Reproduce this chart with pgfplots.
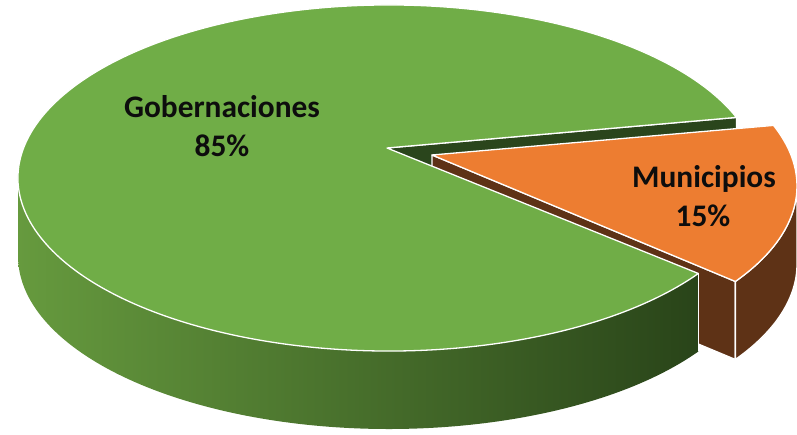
\documentclass[border=0pt]{standalone}
\usepackage{pgfplots}
\pgfplotsset{compat=1.18}
\usepackage{fontspec}
\setmainfont{Carlito}
\definecolor{gtop}{HTML}{70AD47}
\definecolor{otop}{HTML}{ED7D31}
\definecolor{gdark}{HTML}{2A451C}
\definecolor{obrown}{HTML}{5E3216}
\definecolor{gsideL}{HTML}{669A3E}
\definecolor{gsideM}{HTML}{456A2E}
\definecolor{gsideR}{HTML}{294419}
\begin{document}
\begin{tikzpicture}
\def\valGob{85}
\def\valMun{15}
\pgfmathsetmacro\aS{20.5}
\pgfmathsetmacro\aE{\aS+3.6*\valGob}
\pgfmathsetmacro\aM{\aS-3.6*\valMun}
\begin{axis}[width=797bp,height=435bp,scale only axis,at={(0,0)},anchor=south west,
  xmin=0,xmax=797,ymin=0,ymax=435,hide axis,clip=false]
\tikzset{edge/.style={draw=white,line width=1.3bp,line join=round}}
% green radial face (upper edge)
\filldraw[gdark,edge] (axis cs:387,287) -- (axis cs:{389+371*cos(\aS)},{257+173*sin(\aS)}) -- ++(0,-78bp) -- (axis cs:387,209) -- cycle;
% orange radial face
\filldraw[obrown,edge] (axis cs:432,280) -- (axis cs:{426+371*cos(\aM)},{249+173*sin(\aM)}) -- ++(0,-78bp) -- (axis cs:432,202) -- cycle;
% orange outer side
\filldraw[obrown,edge] (axis cs:{426+371*cos(\aM)},{249+173*sin(\aM)}) arc[start angle=\aM,end angle=0,x radius=371bp,y radius=173bp] -- ++(0,-78bp) arc[start angle=0,end angle=\aM,x radius=371bp,y radius=173bp] -- cycle;
% green outer side
\path[left color=gsideL,middle color=gsideM,right color=gsideR] (axis cs:18,257) arc[start angle=180,end angle=\aE,x radius=371bp,y radius=173bp] -- ++(0,-78bp) arc[start angle=\aE,end angle=180,x radius=371bp,y radius=173bp] -- cycle;
\draw[edge] (axis cs:{389+371*cos(\aE)},{257+173*sin(\aE)}) -- ++(0,-78bp);
% green top
\filldraw[gtop,edge] (axis cs:387,287) -- (axis cs:{389+371*cos(\aS)},{257+173*sin(\aS)}) arc[start angle=\aS,end angle=\aE,x radius=371bp,y radius=173bp] -- cycle;
% orange top
\filldraw[otop,edge] (axis cs:432,280) -- (axis cs:{426+371*cos(\aM)},{249+173*sin(\aM)}) arc[start angle=\aM,end angle=\aS,x radius=371bp,y radius=173bp] -- cycle;
% labels
\tikzset{lab/.style={anchor=base,text=black!95,font=\fontsize{31.5}{36}\selectfont\bfseries}}
\node[lab] at (axis cs:222,317) {Gobernaciones};
\node[lab] at (axis cs:222,278) {85\%};
\node[lab] at (axis cs:704,247) {Municipios};
\node[lab] at (axis cs:703,208) {15\%};
\end{axis}
\pgfresetboundingbox
\path (0,0) rectangle (797bp,435bp);
\end{tikzpicture}
\end{document}
